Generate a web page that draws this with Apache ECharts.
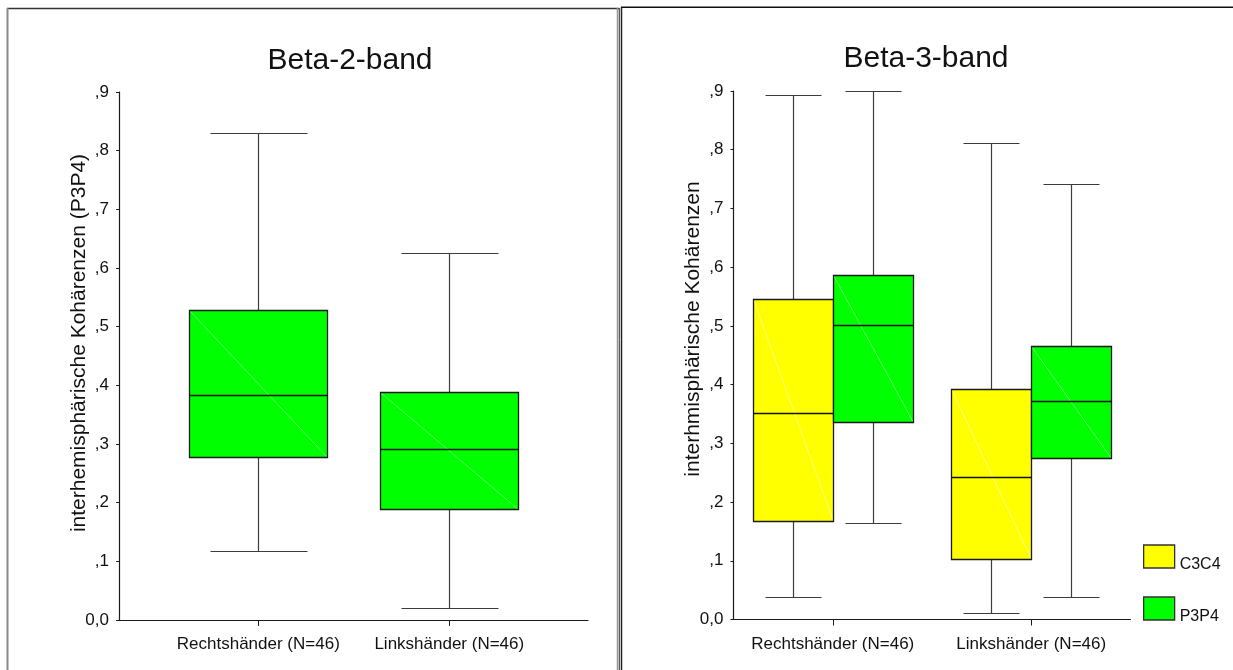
<!DOCTYPE html>
<html>
<head>
<meta charset="utf-8">
<script src="https://cdn.jsdelivr.net/npm/echarts@6/dist/echarts.min.js"></script>
<style>
  html, body { margin: 0; padding: 0; background: #fff; }
  #chart { width: 1233px; height: 670px; }
</style>
</head>
<body>
<div id="chart"></div>
<script>
// Groups on the x axis
const groups = ['Rechtshänder (N=46)', 'Linkshänder (N=46)'];

// Box summaries per group: [min, Q1, median, Q3, max]
const beta2P3P4 = [
  [0.118, 0.277, 0.383, 0.528, 0.830],
  [0.020, 0.189, 0.292, 0.389, 0.626]
];
const beta3C3C4 = [
  [0.038, 0.168, 0.351, 0.545, 0.894],
  [0.011, 0.103, 0.243, 0.392, 0.812]
];
const beta3P3P4 = [
  [0.165, 0.336, 0.502, 0.587, 0.900],
  [0.038, 0.275, 0.372, 0.466, 0.741]
];

// Value axis ticks
const yMin = 0, yMax = 0.9, yStep = 0.1;

const FONT = '"Liberation Sans", Arial, sans-serif';
const GREEN = '#00ff00', YELLOW = '#ffff00';

function toRows(stats) {
  return stats.map((s, i) => [i].concat(s));
}

function tickLabel(v) {
  const d = Math.round(v * 10);
  return d === 0 ? '0,0' : ',' + d;
}

// Draws one box with whiskers; shift places it left (-0.5) or right (+0.5) of the group centre
function boxRenderer(fill, diagColor, boxFrac, shift) {
  return function (params, api) {
    const idx = api.value(0);
    const mn = api.value(1), q1 = api.value(2), md = api.value(3), q3 = api.value(4), mx = api.value(5);
    const band = api.size([1, 0])[0];
    const w = band * boxFrac;
    const cx = api.coord([idx, 0])[0] + shift * w;
    const py = v => Math.round(api.coord([idx, v])[1]) + 0.5;
    const x0 = Math.round(cx - w / 2) + 0.5;
    const x1 = Math.round(cx + w / 2) + 0.5;
    const xc = Math.round(cx) + 0.5;
    const capHalf = w * 0.35;
    const cx0 = Math.round(cx - capHalf) + 0.5;
    const cx1 = Math.round(cx + capHalf) + 0.5;
    const yMn = py(mn), yQ1 = py(q1), yMd = py(md), yQ3 = py(q3), yMx = py(mx);
    const whisker = { stroke: '#3c3c3c', lineWidth: 1.2 };
    return {
      type: 'group',
      children: [
        { type: 'line', shape: { x1: xc, y1: yQ3, x2: xc, y2: yMx }, style: whisker },
        { type: 'line', shape: { x1: xc, y1: yQ1, x2: xc, y2: yMn }, style: whisker },
        { type: 'line', shape: { x1: cx0, y1: yMx, x2: cx1, y2: yMx }, style: whisker },
        { type: 'line', shape: { x1: cx0, y1: yMn, x2: cx1, y2: yMn }, style: whisker },
        { type: 'rect', shape: { x: x0, y: yQ3, width: x1 - x0, height: yQ1 - yQ3 },
          style: { fill: fill, stroke: 'none' } },
        { type: 'line', shape: { x1: x0, y1: yQ3, x2: x1, y2: yQ1 },
          style: { stroke: diagColor, lineWidth: 0.8 } },
        { type: 'rect', shape: { x: x0, y: yQ3, width: x1 - x0, height: yQ1 - yQ3 },
          style: { fill: 'none', stroke: '#1a1a1a', lineWidth: 1.3 } },
        { type: 'line', shape: { x1: x0, y1: yMd, x2: x1, y2: yMd },
          style: { stroke: '#111', lineWidth: 1.3 } }
      ]
    };
  };
}

const valueAxisBase = {
  type: 'value', min: yMin, max: yMax, interval: yStep,
  splitLine: { show: false }
};

const visibleY = Object.assign({}, valueAxisBase, {
  axisLine: { show: true, lineStyle: { color: '#1a1a1a', width: 1.2 } },
  axisTick: { show: true, inside: false, length: 3, lineStyle: { color: '#1a1a1a' } },
  axisLabel: { show: true, margin: 10, fontFamily: FONT, fontSize: 17, color: '#111', formatter: tickLabel }
});

const hiddenY = Object.assign({}, valueAxisBase, { show: false });

const catAxisBase = {
  type: 'category', data: groups, boundaryGap: true,
  axisTick: { show: true, alignWithLabel: true, length: 6, lineStyle: { color: '#1a1a1a' } },
  axisLabel: { show: true, margin: 16, fontFamily: FONT, fontSize: 17, color: '#111', interval: 0 },
  splitLine: { show: false }
};

const chart = echarts.init(document.getElementById('chart'), null, { renderer: 'canvas' });

chart.setOption({
  backgroundColor: '#fff',
  animation: false,
  title: [
    { text: 'Beta-2-band', left: 350, top: 46, textAlign: 'center', padding: 0,
      textStyle: { fontFamily: FONT, fontSize: 30, fontWeight: 'normal', color: '#111' } },
    { text: 'Beta-3-band', left: 926, top: 44, textAlign: 'center', padding: 0,
      textStyle: { fontFamily: FONT, fontSize: 30, fontWeight: 'normal', color: '#111' } }
  ],
  legend: {
    orient: 'vertical', left: 1143, top: 540.5, padding: 0,
    itemWidth: 31, itemHeight: 23, itemGap: 20,
    selectedMode: false,
    formatter: name => '{t|' + name + '}',
    textStyle: {
      fontFamily: FONT, fontSize: 16, color: '#111',
      rich: { t: { fontFamily: FONT, fontSize: 16, color: '#111', lineHeight: 16, padding: [16, 0, 0, 0] } }
    },
    data: [
      { name: 'C3C4', icon: 'rect', itemStyle: { color: YELLOW, borderColor: '#333', borderWidth: 1.3 } },
      { name: 'P3P4', icon: 'rect', itemStyle: { color: GREEN, borderColor: '#333', borderWidth: 1.3 } }
    ]
  },
  grid: [
    // left panel: boxes
    { left: 162.8, width: 382, top: 92, height: 528 },
    // left panel: frame axes
    { left: 119, width: 469, top: 92, height: 528 },
    // right panel
    { left: 733.5, width: 397, top: 91, height: 528.5 }
  ],
  xAxis: [
    Object.assign({}, catAxisBase, { gridIndex: 0, axisLine: { show: false } }),
    { type: 'value', gridIndex: 1, min: 0, max: 1,
      axisLine: { show: true, lineStyle: { color: '#1a1a1a', width: 1.2 } },
      axisTick: { show: false }, axisLabel: { show: false }, splitLine: { show: false } },
    Object.assign({}, catAxisBase, { gridIndex: 2,
      axisLine: { show: true, lineStyle: { color: '#1a1a1a', width: 1.2 } } })
  ],
  yAxis: [
    Object.assign({}, hiddenY, { gridIndex: 0 }),
    Object.assign({}, visibleY, { gridIndex: 1 }),
    Object.assign({}, visibleY, { gridIndex: 2 })
  ],
  series: [
    { name: 'Beta-2 P3P4', type: 'custom', xAxisIndex: 0, yAxisIndex: 0,
      renderItem: boxRenderer(GREEN, '#7dff7d', 0.7225, 0),
      encode: { x: 0, y: [1, 2, 3, 4, 5] }, data: toRows(beta2P3P4),
      itemStyle: { color: GREEN } },
    { name: 'C3C4', type: 'custom', xAxisIndex: 2, yAxisIndex: 2,
      renderItem: boxRenderer(YELLOW, '#ffff9a', 0.4035, -0.5),
      encode: { x: 0, y: [1, 2, 3, 4, 5] }, data: toRows(beta3C3C4),
      itemStyle: { color: YELLOW } },
    { name: 'P3P4', type: 'custom', xAxisIndex: 2, yAxisIndex: 2,
      renderItem: boxRenderer(GREEN, '#7dff7d', 0.4035, 0.5),
      encode: { x: 0, y: [1, 2, 3, 4, 5] }, data: toRows(beta3P3P4),
      itemStyle: { color: GREEN } }
  ],
  graphic: [
    // panel frames
    { type: 'line', shape: { x1: 7, y1: 8.5, x2: 619, y2: 8.5 }, style: { stroke: '#333', lineWidth: 1.5 }, silent: true },
    { type: 'line', shape: { x1: 7.5, y1: 8, x2: 7.5, y2: 680 }, style: { stroke: '#888', lineWidth: 2 }, silent: true },
    { type: 'line', shape: { x1: 617.5, y1: 8, x2: 617.5, y2: 680 }, style: { stroke: '#999', lineWidth: 1.5 }, silent: true },
    { type: 'line', shape: { x1: 619.3, y1: 8, x2: 619.3, y2: 680 }, style: { stroke: '#333', lineWidth: 1 }, silent: true },
    { type: 'line', shape: { x1: 621.5, y1: 7, x2: 621.5, y2: 680 }, style: { stroke: '#222', lineWidth: 1.5 }, silent: true },
    { type: 'line', shape: { x1: 621, y1: 7.3, x2: 1240, y2: 7.3 }, style: { stroke: '#111', lineWidth: 1.5 }, silent: true },
    // value-axis names
    { type: 'text', x: 79, y: 343, rotation: Math.PI / 2, silent: true,
      style: { text: 'interhemisphärische Kohärenzen (P3P4)', fontFamily: FONT, fontSize: 21,
               fill: '#111', textAlign: 'center', textVerticalAlign: 'middle' } },
    { type: 'text', x: 693, y: 329, rotation: Math.PI / 2, silent: true,
      style: { text: 'interhmisphärische Kohärenzen', fontFamily: FONT, fontSize: 21,
               fill: '#111', textAlign: 'center', textVerticalAlign: 'middle' } }
  ]
});
</script>
</body>
</html>
